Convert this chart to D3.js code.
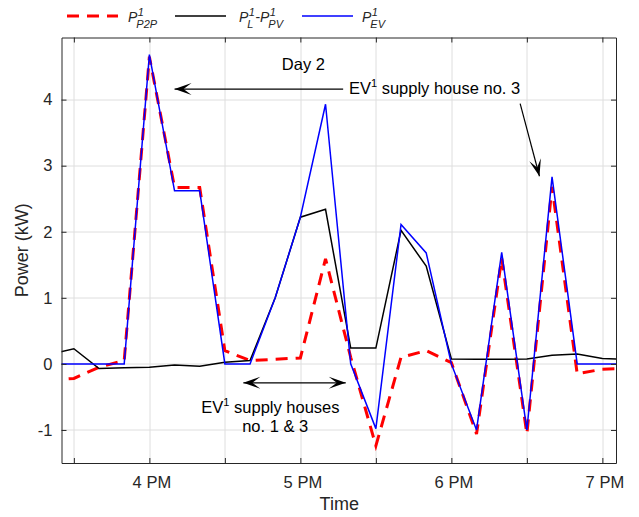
<!DOCTYPE html>
<html>
<head>
<meta charset="utf-8">
<script src="https://cdn.jsdelivr.net/npm/d3@7"></script>
<style>
body { margin: 0; background: #fff; }
text { font-family: "Liberation Sans", Arial, Helvetica, sans-serif; fill: #262626; }
</style>
</head>
<body>
<div id="vis"></div>
<script>
// data (10 min steps, kW)
var times = ["15:20","15:30","15:40","15:50","16:00","16:10","16:20","16:30","16:40","16:50","17:00","17:10",
             "17:20","17:30","17:40","17:50","18:00","18:10","18:20","18:30","18:40","18:50","19:00","19:10"];
var p2p    = [-0.25,-0.22,-0.05,0.05,4.65,2.67,2.67,0.2,0.05,0.07,0.09,1.59,
              0.1,-1.24,0.1,0.2,0.02,-1.06,1.6,-1.06,2.68,-0.15,-0.08,-0.07];
var loadPv = [0.14,0.23,-0.07,-0.06,-0.05,-0.015,-0.035,0.025,0.05,1.0,2.22,2.34,
              0.24,0.24,2.02,1.48,0.075,0.07,0.07,0.075,0.13,0.15,0.08,0.07];
var ev     = [0,0,0,0,4.68,2.62,2.62,0,0,1.0,2.22,3.93,
              0,-0.98,2.11,1.68,0,-1.0,1.69,-1.0,2.83,0,0,0];

var yTicks = [-1, 0, 1, 2, 3, 4];
var xDomain = ["15:25:05", "19:05:25"];
var yDomain = [-1.5, 4.94];

// annotations (time, value)
var arrows = [
  {from: ["17:17:00", 4.16], to: ["16:10:00", 4.16], both: false},
  {from: ["18:27:20", 3.94], to: ["18:35:00", 2.84], both: false},
  {from: ["16:37:20", -0.286], to: ["17:18:02", -0.286], both: true}
];
var notes = [
  {t: "17:01:12", v: 4.452, parts: [["Day 2", 0]], anchor: "middle"},
  {t: "17:19:18", v: 4.09, parts: [["EV", 0], ["1", 1], [" supply house no. 3", 0]], anchor: "start"},
  {t: "16:48:06", v: -0.74, parts: [["EV", 0], ["1", 1], [" supply houses", 0]], anchor: "middle"},
  {t: "16:50:00", v: -1.026, parts: [["no. 1 & 3", 0]], anchor: "middle"}
];

var W = 639, H = 517;
var margin = {left: 61.5, top: 37.5, right: 23, bottom: 54};
var width = W - margin.left - margin.right;
var height = H - margin.top - margin.bottom;

var parse = d3.timeParse("%H:%M");
var parseS = d3.timeParse("%H:%M:%S");

var svg = d3.select("#vis").append("svg")
  .attr("width", W)
  .attr("height", H)
  .style("background", "#fff");

var x = d3.scaleTime()
  .domain(xDomain.map(parseS))
  .range([0, width]);

var y = d3.scaleLinear()
  .domain(yDomain)
  .range([height, 0]);

var main = svg.append("g")
  .attr("transform", `translate(${margin.left},${margin.top})`);

svg.append("defs").append("clipPath").attr("id", "clip")
  .append("rect").attr("width", width).attr("height", height);

var xTicks = x.ticks(d3.timeMinute.every(30));

// grid
main.append("g").selectAll("line").data(xTicks).enter().append("line")
  .attr("x1", d => Math.round(x(d)) + 0.5).attr("x2", d => Math.round(x(d)) + 0.5)
  .attr("y1", 0).attr("y2", height)
  .attr("stroke", "#dedede");
main.append("g").selectAll("line").data(yTicks).enter().append("line")
  .attr("y1", d => Math.round(y(d)) + 0.5).attr("y2", d => Math.round(y(d)) + 0.5)
  .attr("x1", 0).attr("x2", width)
  .attr("stroke", "#dedede");

// lines
var series = [
  {vals: p2p, color: "#ff0000", w: 3, dash: "12,8"},
  {vals: loadPv, color: "#000000", w: 1.5, dash: null},
  {vals: ev, color: "#0000ff", w: 1.5, dash: null}
];
var line = d3.line().x(d => x(d.t)).y(d => y(d.v));
var plot = main.append("g").attr("clip-path", "url(#clip)");
series.forEach(function(s) {
  var pts = times.map((t, i) => ({t: parse(t), v: s.vals[i]}));
  plot.append("path")
    .datum(pts)
    .attr("d", line)
    .attr("fill", "none")
    .attr("stroke", s.color)
    .attr("stroke-width", s.w)
    .attr("stroke-dasharray", s.dash)
    .attr("stroke-linejoin", "miter");
});

// axes
var fmtHour = d3.timeFormat("%-I %p");
var xAxis = main.append("g")
  .attr("transform", `translate(0,${height})`)
  .call(d3.axisBottom(x).tickValues(xTicks)
    .tickFormat(d => d.getMinutes() === 0 ? fmtHour(d) : "")
    .tickSizeInner(-5).tickSizeOuter(0).tickPadding(13.5));
var yAxis = main.append("g")
  .call(d3.axisLeft(y).tickValues(yTicks).tickFormat(d => String(d))
    .tickSizeInner(-5).tickSizeOuter(0).tickPadding(9));
main.append("g")
  .call(d3.axisTop(x).tickValues(xTicks).tickFormat("").tickSizeInner(-5).tickSizeOuter(0));
main.append("g")
  .attr("transform", `translate(${width},0)`)
  .call(d3.axisRight(y).tickValues(yTicks).tickFormat("").tickSizeInner(-5).tickSizeOuter(0));

main.selectAll(".domain, .tick line").attr("stroke", "#262626");
main.selectAll(".tick text")
  .attr("font-size", "16.5px")
  .attr("font-family", null)
  .attr("fill", "#262626");
xAxis.selectAll(".tick text").attr("dx", 2);

// axis labels
svg.append("text")
  .attr("x", margin.left + width / 2 + 0.5)
  .attr("y", 510)
  .attr("text-anchor", "middle")
  .attr("font-size", "18px")
  .text("Time");
svg.append("text")
  .attr("transform", `translate(28,${margin.top + height / 2}) rotate(-90)`)
  .attr("text-anchor", "middle")
  .attr("font-size", "18px")
  .text("Power (kW)");

// annotations
function head(tip, from) {
  var dx = tip[0] - from[0], dy = tip[1] - from[1];
  var len = Math.sqrt(dx * dx + dy * dy);
  var ux = dx / len, uy = dy / len, nx = -uy, ny = ux;
  var L = 17, Wd = 6, N = 9;
  return [
    tip,
    [tip[0] - L * ux + Wd * nx, tip[1] - L * uy + Wd * ny],
    [tip[0] - N * ux, tip[1] - N * uy],
    [tip[0] - L * ux - Wd * nx, tip[1] - L * uy - Wd * ny]
  ];
}
var ann = main.append("g");
arrows.forEach(function(a) {
  var p0 = [x(parseS(a.from[0])), y(a.from[1])];
  var p1 = [x(parseS(a.to[0])), y(a.to[1])];
  ann.append("line")
    .attr("x1", p0[0]).attr("y1", p0[1])
    .attr("x2", p1[0]).attr("y2", p1[1])
    .attr("stroke", "#000").attr("stroke-width", 1.2);
  var heads = [head(p1, p0)];
  if (a.both) heads.push(head(p0, p1));
  heads.forEach(function(h) {
    ann.append("path")
      .attr("d", "M" + h.map(p => p.join(",")).join("L") + "Z")
      .attr("fill", "#000");
  });
});
notes.forEach(function(n) {
  var t = ann.append("text")
    .attr("x", x(parseS(n.t)))
    .attr("y", y(n.v))
    .attr("text-anchor", n.anchor)
    .attr("font-size", "16.5px")
    .style("fill", "#000");
  n.parts.forEach(function(p) {
    var ts = t.append("tspan").text(p[0]);
    if (p[1] === 1) ts.attr("font-size", "11px").attr("dy", -7);
    else if (t.selectAll("tspan").size() > 1) ts.attr("dy", 7);
  });
});

// legend
var leg = svg.append("g");
function sym(g, x0, y0, sup, sub) {
  var p = g.append("text").attr("x", x0).attr("y", y0)
    .attr("font-size", "14px").attr("font-style", "italic").text("P");
  var w = p.node().getComputedTextLength();
  var s1 = g.append("text").attr("x", x0 + w + 0.5).attr("y", y0 - 6.5)
    .attr("font-size", "11px").attr("font-style", "italic").text(sup);
  var s2 = g.append("text").attr("x", x0 + w - 1).attr("y", y0 + 6)
    .attr("font-size", "11px").attr("font-style", "italic").text(sub);
  return x0 + w + Math.max(s1.node().getComputedTextLength() + 0.5, s2.node().getComputedTextLength() - 1);
}
var legendItems = [
  {x0: 67, color: "#ff0000", w: 3, dash: "12,8", tx: 128},
  {x0: 175, color: "#000000", w: 1.5, dash: null, tx: 239},
  {x0: 302, color: "#0000ff", w: 1.5, dash: null, tx: 362}
];
legendItems.forEach(function(it) {
  leg.append("line")
    .attr("x1", it.x0).attr("x2", it.x0 + 51)
    .attr("y1", 16).attr("y2", 16)
    .attr("stroke", it.color).attr("stroke-width", it.w)
    .attr("stroke-dasharray", it.dash);
});
sym(leg, 128, 22, "1", "P2P");
var xe = sym(leg, 239, 22, "1", "L");
leg.append("text").attr("x", xe + 0.5).attr("y", 22).attr("font-size", "14px").text("-");
sym(leg, xe + 5, 22, "1", "PV");
sym(leg, 362, 22, "1", "EV");
</script>
</body>
</html>
